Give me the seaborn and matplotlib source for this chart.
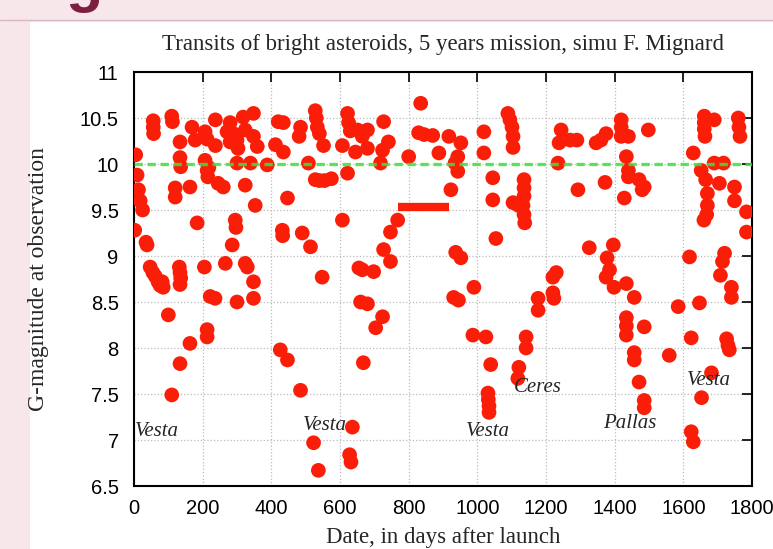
import pandas as pd
import matplotlib
matplotlib.use("Agg")
import matplotlib.pyplot as plt
import seaborn as sns

# transit dates (days after launch) and G magnitudes
days = [5, 9, 13, 18, 25, 2, 35, 38,
        56, 56, 57,
        47, 55, 62, 70, 76, 82, 85,
        100, 110, 110, 112, 120, 120,
        134, 134, 136, 132, 134, 136, 134, 134,
        163, 163, 169, 178, 184,
        207, 213, 207, 213, 215, 218, 237, 237, 245, 260,
        205, 222, 236, 213, 213,
        280, 271, 290, 280, 300, 303, 318, 324, 348, 348, 359, 300, 339, 388,
        295, 297, 286, 266, 300, 324, 330, 348, 348,
        324, 353,
        420, 435, 412, 435, 447, 432, 433, 426, 447, 485,
        485, 481,
        490, 514, 523, 537, 548,
        528, 531, 534, 540, 552, 508,
        528, 540, 555, 575,
        622, 625, 630, 607, 651, 680, 645, 680, 665, 727, 741, 724, 622, 718, 607,
        655, 665, 698, 636, 628, 632, 660, 680, 724, 704, 668,
        727, 747, 747, 768,
        835, 829, 845, 870, 800, 888,
        917, 952, 943, 935, 943, 923,
        937, 952, 931, 945, 990, 987, 1025, 1039, 1031, 1032, 1034, 1034,
        1019, 1019, 1045, 1045, 1054,
        1089, 1095, 1101, 1104, 1104,
        1136, 1136, 1136, 1133, 1136, 1138, 1104, 1120,
        1142, 1142, 1121, 1118, 1177, 1177, 1220, 1223, 1220, 1230,
        1235, 1244, 1238, 1270, 1290, 1293, 1326,
        1346, 1360, 1375, 1419, 1419, 1419, 1440, 1498, 1434, 1440, 1440, 1471,
        1486, 1480, 1428, 1372,
        1396, 1378, 1385, 1375, 1398, 1434, 1457, 1434, 1434, 1434, 1486, 1457,
        1457, 1471, 1486, 1486,
        1585, 1618, 1623, 1559, 1623, 1629, 1647, 1653, 1682,
        1629, 1661, 1661, 1661, 1663, 1690, 1760, 1762, 1765, 1652, 1690, 1717,
        1665, 1705, 1670, 1670, 1668, 1660, 1749, 1749, 1784, 1784, 1720, 1714,
        1708, 1740, 1740, 1726, 1730, 1734]
mags = [10.1, 9.88, 9.72, 9.6, 9.5, 9.28, 9.15, 9.12,
        10.47, 10.4, 10.33,
        8.88, 8.82, 8.78, 8.72, 8.68, 8.72, 8.66,
        8.36, 7.49, 10.52, 10.46, 9.74, 9.64,
        10.24, 10.07, 9.97, 8.88, 8.82, 8.76, 8.69, 7.83,
        8.05, 9.75, 10.4, 10.26, 9.36,
        10.35, 10.27, 10.04, 9.93, 9.86, 9.96, 10.48, 10.2, 9.79, 9.75,
        8.88, 8.56, 8.54, 8.2, 8.12,
        10.45, 10.35, 10.33, 10.24, 10.26, 10.17, 10.51, 10.37, 10.55, 10.3, 10.19, 10.01, 10.01, 9.99,
        9.39, 9.31, 9.12, 8.92, 8.5, 8.92, 8.88, 8.72, 8.54,
        9.77, 9.55,
        10.46, 10.45, 10.21, 10.13, 9.63, 9.28, 9.22, 7.98, 7.87, 7.54,
        10.4, 10.3,
        9.25, 9.1, 6.97, 6.67, 8.77,
        10.58, 10.5, 10.4, 10.33, 10.2, 10.01,
        9.83, 9.82, 9.82, 9.84,
        10.55, 10.45, 10.36, 10.2, 10.37, 10.37, 10.13, 10.17, 10.3, 10.46, 10.24, 10.15, 9.9, 10.01, 9.39,
        8.87, 8.85, 8.83, 7.14, 6.84, 6.76, 8.5, 8.48, 8.34, 8.22, 7.84,
        9.07, 8.94, 9.26, 9.39,
        10.66, 10.34, 10.32, 10.31, 10.08, 10.12,
        10.3, 10.23, 10.08, 10.01, 9.92, 9.72,
        9.04, 8.98, 8.55, 8.52, 8.66, 8.14, 8.12, 7.82, 7.51, 7.44, 7.37, 7.3,
        10.35, 10.12, 9.85, 9.61, 9.19,
        10.55, 10.48, 10.4, 10.3, 10.18,
        9.83, 9.74, 9.65, 9.55, 9.45, 9.36, 9.58, 9.55,
        8.12, 8.0, 7.79, 7.67, 8.54, 8.41, 8.6, 8.54, 8.77, 8.82,
        10.01, 10.37, 10.23, 10.26, 10.26, 9.72, 9.09,
        10.23, 10.26, 10.33, 10.48, 10.4, 10.3, 10.3, 10.37, 10.08, 9.93, 9.86, 9.83,
        9.75, 9.72, 9.63, 9.8,
        9.12, 8.98, 8.85, 8.77, 8.66, 8.7, 8.55, 8.33, 8.24, 8.14, 8.23, 7.95,
        7.87, 7.63, 7.43, 7.35,
        8.45, 8.99, 8.11, 7.92, 7.09, 6.98, 8.49, 7.46, 7.73,
        10.12, 10.52, 10.45, 10.38, 10.3, 10.48, 10.5, 10.4, 10.3, 9.93, 10.01, 10.01,
        9.83, 9.79, 9.68, 9.55, 9.45, 9.39, 9.75, 9.6, 9.48, 9.26, 9.03, 8.94,
        8.79, 8.66, 8.55, 8.1, 8.03, 7.98]

# dense run of transits drawn as a bar
bar_start, bar_end, bar_mag = 768, 917, 9.53
limit_mag = 10.0

# asteroid labels
label_names = ["Vesta", "Vesta", "Vesta", "Ceres", "Pallas", "Vesta"]
label_days = [3, 493, 966, 1107, 1366, 1609]
label_mags = [7.09, 7.16, 7.09, 7.57, 7.18, 7.65]

df = pd.DataFrame({"day": days, "mag": mags})

sns.set_style("white")
plt.rcParams["font.family"] = ["Liberation Sans", "DejaVu Sans"]

fig = plt.figure(figsize=(7.73, 5.49), dpi=100)
fig.patch.set_facecolor("#f7e6ea")
# white slide panel behind the plot
fig.patches.append(plt.Rectangle((30 / 773, 0), 1, 527 / 549, transform=fig.transFigure,
                                 facecolor="white", edgecolor="none", zorder=-5))
fig.lines.append(plt.Line2D([0, 1], [529 / 549, 529 / 549], transform=fig.transFigure,
                            color="#d9b8c2", lw=1, zorder=-4))
fig.text(0.109, 1.0, "g", fontsize=44, fontweight="bold", color="#7d1f40",
         ha="center", va="baseline", zorder=-4)

ax = fig.add_axes([134 / 773, 1 - 486 / 549, 618 / 773, 414 / 549])
ax.set_zorder(2)
ax.set_facecolor("white")

sns.scatterplot(data=df, x="day", y="mag", ax=ax, color="#fa1e08", s=112,
                edgecolor="none", linewidth=0, zorder=3)
ax.hlines(bar_mag, bar_start, bar_end, color="#fa1e08", lw=6, zorder=3)
ax.axhline(limit_mag, color="#3fe03f", lw=2.4, ls=(0, (2.5, 1.4)), alpha=0.85, zorder=4)

for name, d, m in zip(label_names, label_days, label_mags):
    ax.text(d, m, name, family=["Liberation Serif", "DejaVu Serif"], style="italic",
            fontsize=15, ha="left", va="center", zorder=5)

ax.set_xlim(0, 1800)
ax.set_ylim(6.5, 11)
ax.set_xticks(range(0, 1801, 200))
ax.set_yticks([6.5, 7, 7.5, 8, 8.5, 9, 9.5, 10, 10.5, 11])
ax.set_yticklabels(["6.5", "7", "7.5", "8", "8.5", "9", "9.5", "10", "10.5", "11"])
ax.grid(True, color="#bbbbbb", ls=":", lw=0.9)
ax.tick_params(direction="in", length=7, width=1.2, top=True, right=True,
               labelsize=14.5, colors="black")
ax.tick_params(axis="x", pad=9)
ax.tick_params(axis="y", pad=11)
for sp in ax.spines.values():
    sp.set_color("black")
    sp.set_linewidth(1.5)

serif = ["Liberation Serif", "DejaVu Serif"]
ax.set_xlabel("Date, in days after launch", family=serif, fontsize=16.5, labelpad=7)
ax.set_ylabel("G-magnitude at observation", family=serif, fontsize=17, labelpad=22)
ax.set_title("Transits of bright asteroids, 5 years mission, simu F. Mignard",
             family=serif, fontsize=16.5, pad=16)

fig.savefig("out.png", dpi=100, facecolor=fig.get_facecolor())
